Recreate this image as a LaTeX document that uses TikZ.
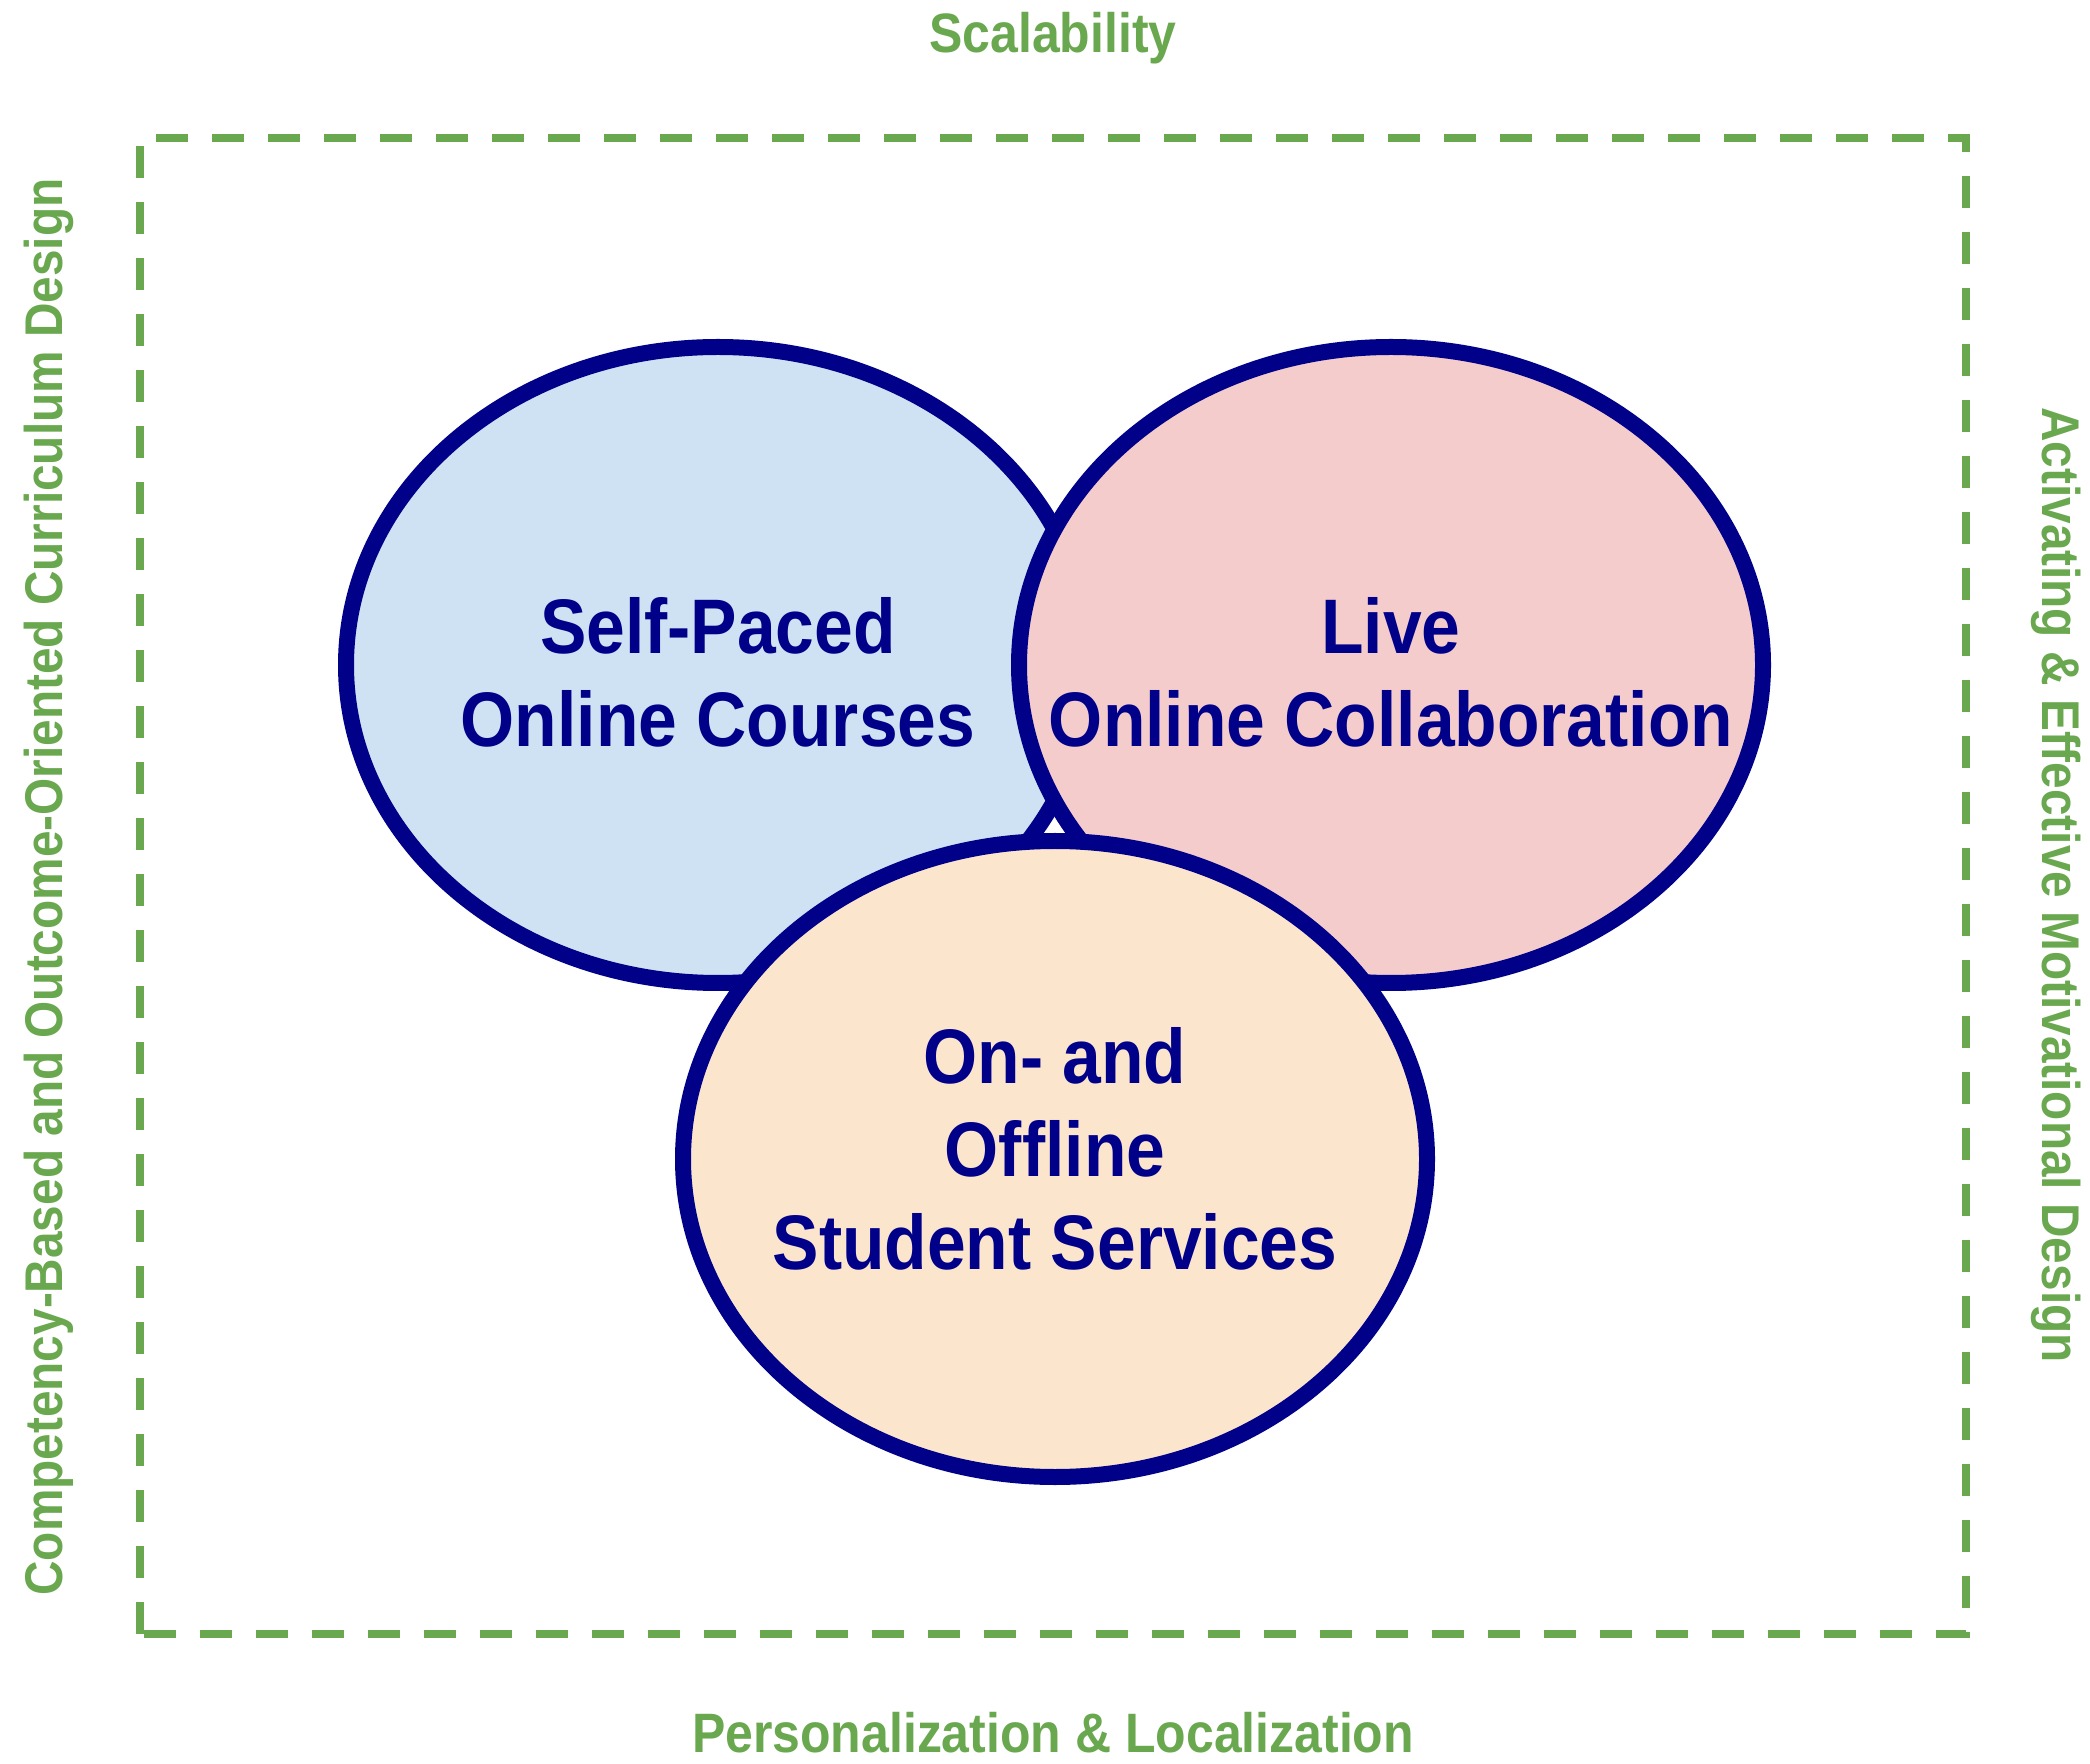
\documentclass[tikz,border=0pt]{standalone}
\usepackage{fontspec}
\setmainfont{Liberation Sans}[FakeStretch=0.9]
\usetikzlibrary{shapes.geometric}
\definecolor{vennnavy}{HTML}{000088}
\definecolor{vennblue}{HTML}{CFE2F3}
\definecolor{vennpink}{HTML}{F4CCCC}
\definecolor{vennorange}{HTML}{FCE5CD}
\definecolor{venngreen}{HTML}{6AA84F}
\begin{document}
\begin{tikzpicture}[
    venn/.style={ellipse, draw=vennnavy, line width=0.16cm, minimum width=7.44cm, minimum height=6.36cm, inner sep=0pt},
    venntext/.style={text=vennnavy, font=\fontsize{22}{26.5}\selectfont\bfseries, align=center},
    aspect/.style={text=venngreen, font=\fontsize{15.8}{19}\selectfont\bfseries, inner sep=0pt},
    sideaspect/.style={aspect, font=\fontsize{15.1}{18}\selectfont\bfseries}
  ]
  \useasboundingbox (0,0) rectangle (20.90,17.63);
  \draw[venngreen, line width=0.08cm, dash pattern=on 0.32cm off 0.24cm] (1.40,1.29) rectangle (19.66,16.25);
  % the three circles
  \node[venn, fill=vennblue] (selfpaced) at (7.18,10.98) {};
  \node[venn, fill=vennpink] (live) at (13.91,10.98) {};
  \node[venn, fill=vennorange] (services) at (10.55,6.04) {};
  \node[venntext, yshift=-0.07cm] (selfpacedtxt) at (selfpaced) {Self-Paced\\Online Courses};
  \node[venntext, yshift=-0.07cm] (livetxt) at (live) {Live\\Online Collaboration};
  \node[venntext, yshift=0.1cm] (servicestxt) at (services) {On- and\\Offline\\Student Services};
  % labels round the frame
  \node[aspect, anchor=base] (scalability) at (10.53,17.10) {Scalability};
  \node[aspect, anchor=base] (personal) at (10.53,0.11) {Personalization \& Localization};
  \node[sideaspect, anchor=base, rotate=90] (competency) at (0.62,8.76) {Competency-Based and Outcome-Oriented Curriculum Design};
  \node[sideaspect, anchor=base, rotate=-90] (activating) at (20.42,8.78) {Activating \& Effective Motivational Design};
\end{tikzpicture}
\end{document}
